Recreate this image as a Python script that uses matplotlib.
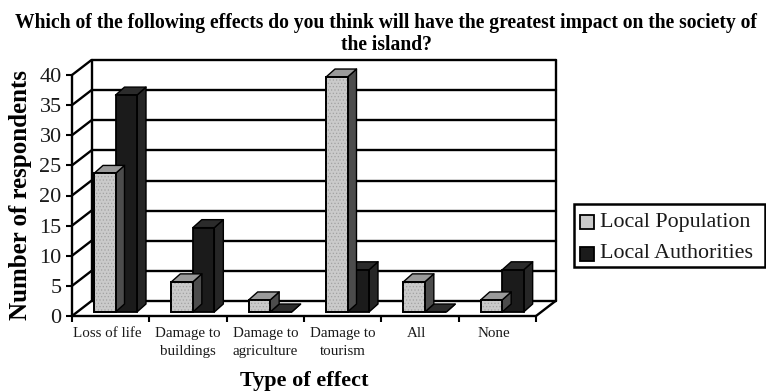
import matplotlib as mpl
mpl.use('Agg')
import matplotlib.pyplot as plt
from matplotlib.patches import Polygon, Rectangle


categories = ['Loss of life', 'Damage to\nbuildings', 'Damage to\nagriculture',
              'Damage to\ntourism', 'All', 'None']
local_population = [23, 5, 2, 39, 5, 2]
local_authorities = [36, 14, 0, 7, 0, 7]
series_names = ['Local Population', 'Local Authorities']
yticks = [0, 5, 10, 15, 20, 25, 30, 35, 40]

# figure size in px, axes box = front plane of the 3d frame
W, H = 766, 392
X0, X1, Y0, Y1 = 72, 536, 316, 75
PX_X = (X1 - X0) / 6.0
PX_Y = (Y0 - Y1) / 40.0

# depth of the frame and of the bars, in axis units
wall_dx, wall_dy = 19.5 / PX_X, 15.0 / PX_Y
bar_dx, bar_dy = 9.0 / PX_X, 8.0 / PX_Y
base_dx, base_dy = 5.0 / PX_X, 4.0 / PX_Y
bar_left = 17.0 / PX_X
bar_w = 21.5 / PX_X

LIGHT = ('#cacaca', '#9a9a9a', '#4c4c4c')
DARK = ('#1b1b1b', '#2b2b2b', '#262626')

plt.rcParams['font.family'] = ['Liberation Serif', 'DejaVu Serif']
plt.rcParams['hatch.linewidth'] = 0.5


def draw_frame(ax):
    '''back wall, side wall and floor of the pseudo 3d box'''
    kw = dict(color='k', lw=1.7, clip_on=False, zorder=1, solid_capstyle='round')
    for val in yticks:
        ax.plot([0, wall_dx], [val, val + wall_dy], **kw)
        ax.plot([wall_dx, 6 + wall_dx], [val + wall_dy, val + wall_dy], **kw)
    ax.plot([wall_dx, wall_dx], [wall_dy, 40 + wall_dy], **kw)
    ax.plot([6 + wall_dx, 6 + wall_dx], [wall_dy, 40 + wall_dy], **kw)
    ax.plot([6, 6 + wall_dx], [0, wall_dy], **kw)
    ax.plot([0, 6], [0, 0], **kw)
    ax.plot([0, 0], [0, 40], **kw)


def draw_bar(ax, x, val, colors, z, grainy=False):
    '''one bar: front face, top and right side'''
    front, top, side = colors
    xa, xb = x + base_dx, x + base_dx + bar_w
    y0 = base_dy
    y1 = base_dy + val
    kw = dict(edgecolor='k', lw=1.0, clip_on=False, zorder=z, joinstyle='round')
    ax.add_patch(Polygon([(xb, y0), (xb + bar_dx, y0 + bar_dy),
                          (xb + bar_dx, y1 + bar_dy), (xb, y1)], facecolor=side, **kw))
    ax.add_patch(Polygon([(xa, y1), (xa + bar_dx, y1 + bar_dy),
                          (xb + bar_dx, y1 + bar_dy), (xb, y1)], facecolor=top, **kw))
    ax.add_patch(Rectangle((xa, y0), bar_w, val, facecolor=front,
                           edgecolor='k', lw=1.3, clip_on=False, zorder=z))
    if grainy:
        # speckled fill of the light series
        ax.add_patch(Rectangle((xa, y0), bar_w, val, facecolor='none', edgecolor='#a2a2a2',
                               hatch='.....', lw=0, clip_on=False, zorder=z))
        ax.add_patch(Rectangle((xa, y0), bar_w, val, facecolor='none',
                               edgecolor='k', lw=1.3, clip_on=False, zorder=z))


fig = plt.figure(figsize=(W / 100.0, H / 100.0), dpi=100)
ax = fig.add_axes([X0 / W, 1 - Y0 / H, (X1 - X0) / W, (Y0 - Y1) / H])
ax.set_xlim(0, 6)
ax.set_ylim(0, 40)
for side in ax.spines.values():
    side.set_visible(False)
ax.patch.set_visible(False)

draw_frame(ax)
for i in range(len(categories)):
    z = 3 + i
    draw_bar(ax, i + bar_left + bar_w, local_authorities[i], DARK, z)
    draw_bar(ax, i + bar_left, local_population[i], LIGHT, z + 0.5, grainy=True)

ax.set_yticks(yticks)
ax.set_yticklabels([str(v) for v in yticks], fontsize=16, color='#1a1a1a')
ax.tick_params(axis='y', length=4, width=1.5, pad=3.5)
ax.set_xticks(range(7))
ax.set_xticklabels([''] * 7)
ax.tick_params(axis='x', length=4, width=1.5)
for i, cat in enumerate(categories):
    # single-line labels sit a little left of the category centre
    shift = 0 if '\n' in cat else -3.5 / PX_X
    ax.text(i + 0.5 + shift, -1.9, cat, ha='center', va='top', fontsize=10.8,
            linespacing=1.5, color='#1a1a1a')

fig.text(21 / W, 1 - 195 / H, 'Number of respondents', rotation=90, ha='center', va='center',
         fontsize=18, fontweight='bold')
fig.text(304 / W, 1 - 381 / H, 'Type of effect', ha='center', va='center',
         fontsize=16, fontweight='bold')
fig.text(386 / W, 1 - 34 / H,
         'Which of the following effects do you think will have the greatest impact on the society of\nthe island?',
         ha='center', va='center', fontsize=14.15, fontweight='bold', linespacing=1.15)

# legend drawn by hand
fig.add_artist(Rectangle((574 / W, 1 - 267 / H), 191 / W, 63 / H, transform=fig.transFigure,
                         facecolor='white', edgecolor='k', lw=1.8))
for name, color, yp in zip(series_names, [LIGHT[0], DARK[0]], [222, 254]):
    fig.add_artist(Rectangle((580 / W, 1 - (yp + 7) / H), 14 / W, 14 / H, transform=fig.transFigure,
                             facecolor=color, edgecolor='k', lw=1.3))
    fig.text(600 / W, 1 - yp / H, name, ha='left', va='center', fontsize=15.8, color='#1a1a1a')

fig.savefig('out.png', dpi=100)
